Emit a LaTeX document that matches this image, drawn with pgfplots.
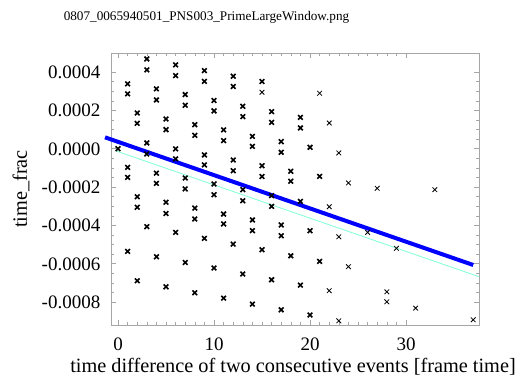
\documentclass[border=0pt]{standalone}
\usepackage{fontspec}
\setmainfont{Liberation Serif}
\usepackage{pgfplots}
\pgfplotsset{compat=1.18}
\newcommand{\bigfont}{\fontsize{19}{22}\selectfont}
\newcommand{\labfont}{\fontsize{20.3}{23}\selectfont}
\definecolor{aqua}{RGB}{127,255,212}
\begin{document}
\begin{tikzpicture}
\useasboundingbox (0,0) rectangle (515pt,377pt);
\node[anchor=base,font=\fontsize{13.2}{15}\selectfont] at (206.5pt,356pt) {0807\_0065940501\_PNS003\_PrimeLargeWindow.png};
\begin{axis}[
  at={(111pt,52pt)}, anchor=south west,
  scale only axis, width=368pt, height=272pt,
  xmin=-0.73, xmax=37.6, ymin=-0.00092, ymax=0.000499,
  clip=false,
  axis line style={gray!70},
  every tick/.style={gray!70},
  tick align=inside,
  major tick length=5pt, minor tick length=2.7pt,
  xtick={0,10,20,30}, minor x tick num=9,
  ytick={-0.0008,-0.0006,-0.0004,-0.0002,0,0.0002,0.0004}, minor y tick num=3,
  scaled y ticks=false, scaled x ticks=false,
  tick label style={font=\bigfont},
  /pgf/number format/assume math mode=true,
  yticklabel style={/pgf/number format/.cd, fixed, fixed zerofill, precision=4, /tikz/.cd, anchor=base east, inner sep=0pt, xshift=-10.5pt, yshift=-6.4pt},
  xticklabel style={anchor=base, inner sep=0pt, yshift=-26pt},
  xlabel={time difference of two consecutive events [frame time]},
  ylabel={time\_frac},
  label style={font=\labfont},
  xlabel style={at={(axis description cs:0.5,0)}, anchor=base, inner sep=0pt, xshift=-2pt, yshift=-48pt},
  ylabel style={at={(axis description cs:0,0.5)}, anchor=center, inner sep=0pt, yshift=90pt},
]
\addplot[only marks, mark=x, mark size=3.3pt, mark options={line width=1.6pt}, black] coordinates {
(0,0.0)
(1,0.000338) (1,0.000286) (1,-0.0000976) (1,-0.00015) (1,-0.000536)
(2,0.000186) (2,0.000132) (2,-0.000251) (2,-0.000306) (2,-0.000689)
(3,0.000468) (3,0.000411) (3,0.0000298) (3,-0.0000277) (3,-0.000407)
(4,0.000312) (4,0.000254) (4,-0.000128) (4,-0.000181) (4,-0.000564)
(5,0.000155) (5,0.0000992) (5,-0.00028) (5,-0.000338) (5,-0.000721)
(6,0.000437) (6,0.000381) (6,-0.0000016) (6,-0.0000538) (6,-0.000437)
(7,0.000282) (7,0.000226) (7,-0.000153) (7,-0.00021) (7,-0.000594)
(8,0.000125) (8,0.0000695) (8,-0.00031) (8,-0.000367) (8,-0.000752)
(9,0.000407) (9,0.000351) (9,-0.0000329) (9,-0.000085) (9,-0.000468)
(10,0.000251) (10,0.000197) (10,-0.000184) (10,-0.00024) (10,-0.000623)
(11,0.0000976) (11,0.0000418) (11,-0.000341) (11,-0.000393) (11,-0.00078)
(12,0.000378) (12,0.000324) (12,-0.000059) (12,-0.000115) (12,-0.000498)
(13,0.000221) (13,0.000167) (13,-0.000214) (13,-0.000272) (13,-0.000654)
(14,0.0000642) (14,0.000012) (14,-0.000372) (14,-0.000428) (14,-0.000811)
(15,0.00035) (15,-0.0000888) (15,-0.000145) (15,-0.000527)
(16,0.000193) (16,0.000137) (16,-0.000245) (16,-0.000301) (16,-0.000684)
(17,0.0000366) (17,-0.0000193) (17,-0.000398) (17,-0.000454) (17,-0.000841)
(18,-0.000118) (18,-0.00017) (18,-0.000559)
(19,0.000163) (19,0.000108) (19,-0.000275) (19,-0.000712)
(20,0.0000068) (20,-0.000428) (20,-0.000868)
(21,-0.000145) (21,-0.000588)
};
\addplot[only marks, mark=x, mark size=3.3pt, mark options={line width=0.8pt}, black] coordinates {
(15,0.000294) (21,0.000289)
(22,0.000134) (22,-0.000303) (22,-0.000741)
(23,-0.0000225) (23,-0.00046) (23,-0.000898)
(24,-0.000179) (24,-0.000616)
(26,-0.000437) (27,-0.000207)
(28,-0.000747) (28,-0.000799)
(29,-0.00052) (31,-0.000832) (33,-0.000214) (37,-0.000893)
};
\addplot[aqua, line width=0.8pt] coordinates {(-0.3,-0.0000104) (37.6,-0.000668)};
\addplot[blue, line width=4pt] coordinates {(-1.35,0.000059) (37,-0.000607)};
\end{axis}
\end{tikzpicture}
\end{document}
